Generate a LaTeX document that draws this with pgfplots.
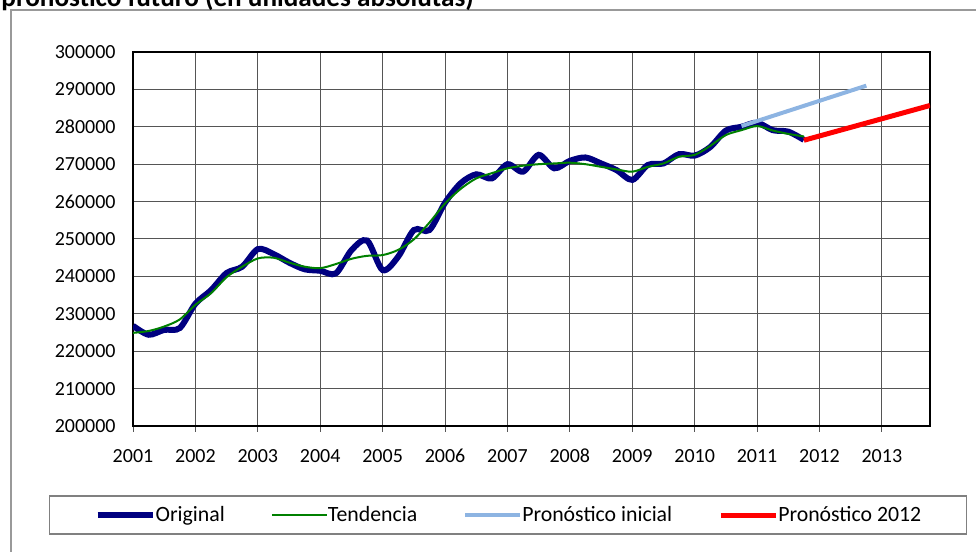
\documentclass[border=0pt]{standalone}
\usepackage{fontspec}
\setmainfont{Carlito}
\usepackage{pgfplots}
\pgfplotsset{compat=1.18}
\definecolor{navyline}{HTML}{000080}
\definecolor{greenline}{HTML}{008000}
\definecolor{lightblueline}{HTML}{8DB4E2}
\definecolor{gridc}{HTML}{555555}
\begin{document}
\begin{tikzpicture}
\useasboundingbox (0,0) rectangle (488pt,276pt);
% chart frame (partly outside the page) and the title, cut at the top as in the source
\draw[gray!80, line width=0.6pt] (5.5pt,-5pt) -- (5.5pt,271pt) -- (495pt,271pt);
\node[anchor=base west, inner sep=0pt, font=\fontsize{13.6}{15}\selectfont\bfseries]
  at (0.5pt,272.6pt) {pronóstico futuro (en unidades absolutas)};
\begin{axis}[
    at={(66.5pt,63pt)}, anchor=south west,
    scale only axis,
    width=398.5pt, height=187pt,
    xmin=2001, xmax=2013.77,
    ymin=200000, ymax=300000,
    xtick={2001,2002,...,2013},
    xticklabels={2001,2002,2003,2004,2005,2006,2007,2008,2009,2010,2011,2012,2013},
    ytick={200000,210000,...,300000},
    yticklabels={200000,210000,220000,230000,240000,250000,260000,270000,280000,290000,300000},
    scaled y ticks=false,
    tick label style={font=\fontsize{10}{12}\selectfont},
    grid=major,
    major grid style={gridc, line width=0.5pt},
    axis line style={black, line width=0.6pt},
    xtick pos=bottom, xtick align=outside,
    major tick length=3pt,
    x tick style={gridc, line width=0.5pt},
    y tick style={draw=none},
    yticklabel style={inner sep=0pt, xshift=-8.5pt},
    xticklabel style={inner sep=0pt, text height=7pt, text depth=0pt, yshift=-8pt},
    legend columns=4,
    legend style={at={(0.4705,-0.238)}, anchor=center, draw=gray, line width=0.6pt,
        font=\fontsize{10.9}{13}\selectfont,
        inner xsep=22.5pt, inner ysep=4pt,
        nodes={inner xsep=0pt, inner ysep=1pt},
        /tikz/every even column/.append style={column sep=23pt}},
    legend image code/.code={\draw[#1] (0pt,0pt) -- (27.5pt,0pt);},
]
\addplot[navyline, line width=3pt, smooth, tension=0.5] coordinates {
(2001.00,226800) (2001.25,224400) (2001.50,225700) (2001.75,226200)
(2002.00,232700) (2002.25,236300) (2002.50,240900) (2002.75,242600)
(2003.00,247300) (2003.25,246000) (2003.50,243700) (2003.75,241900)
(2004.00,241500) (2004.25,240800) (2004.50,247000) (2004.75,249600)
(2005.00,241700) (2005.25,245300) (2005.50,252400) (2005.75,252400)
(2006.00,259700) (2006.25,264900) (2006.50,267300) (2006.75,266200)
(2007.00,270000) (2007.25,268000) (2007.50,272500) (2007.75,268900)
(2008.00,270900) (2008.25,271800) (2008.50,270200) (2008.75,268400)
(2009.00,265800) (2009.25,269800) (2009.50,270200) (2009.75,272700)
(2010.00,272300) (2010.25,274600) (2010.50,279000) (2010.75,280000)
(2011.00,281100) (2011.25,279100) (2011.50,278700) (2011.75,276500)
};
\addlegendentry{Original}
\addplot[greenline, line width=1pt, smooth, tension=0.5] coordinates {
(2001.00,224900) (2001.25,225400) (2001.50,226600) (2001.75,228500)
(2002.00,232400) (2002.25,235500) (2002.50,239800) (2002.75,242600)
(2003.00,244800) (2003.25,245000) (2003.50,243700) (2003.75,242600)
(2004.00,242200) (2004.25,243300) (2004.50,244700) (2004.75,245500)
(2005.00,245700) (2005.25,247100) (2005.50,249900) (2005.75,254400)
(2006.00,259500) (2006.25,263400) (2006.50,266200) (2006.75,267600)
(2007.00,268900) (2007.25,269600) (2007.50,270000) (2007.75,270200)
(2008.00,270400) (2008.25,270000) (2008.50,269300) (2008.75,268600)
(2009.00,268000) (2009.25,269300) (2009.50,270200) (2009.75,272000)
(2010.00,272500) (2010.25,274900) (2010.50,277800) (2010.75,279100)
(2011.00,280200) (2011.25,279000) (2011.50,278100) (2011.75,277400)
};
\addlegendentry{Tendencia}
\addplot[lightblueline, line width=2pt] coordinates {
(2010.75,280200) (2012.75,291000)
};
\addlegendentry{Pronóstico inicial}
\addplot[red, line width=2.5pt] coordinates {
(2011.75,276400) (2013.77,285700)
};
\addlegendentry{Pronóstico 2012}
\end{axis}
\end{tikzpicture}
\end{document}
